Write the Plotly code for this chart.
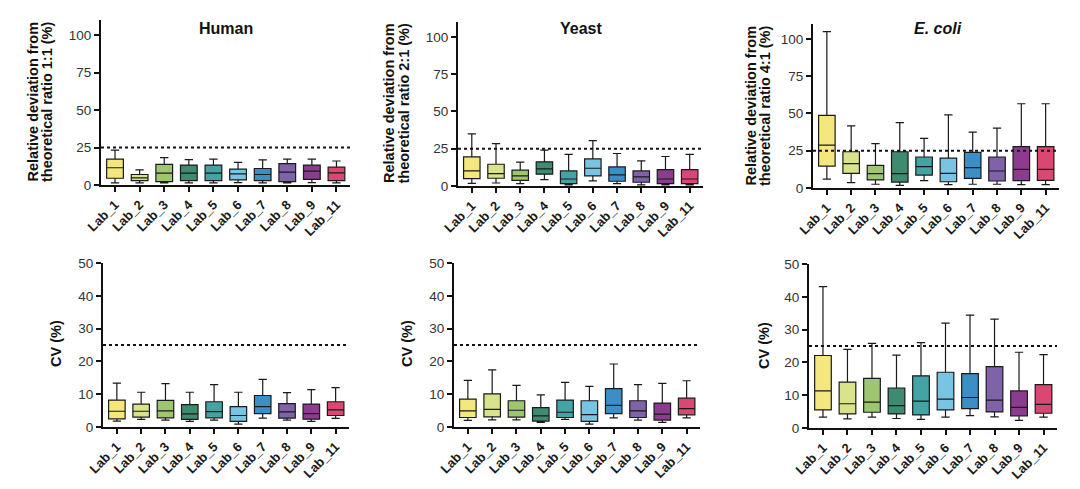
import plotly.graph_objects as go

labs = ["Lab_1", "Lab_2", "Lab_3", "Lab_4", "Lab_5", "Lab_6", "Lab_7", "Lab_8", "Lab_9", "Lab_11"]
colors = ["#F3E77E", "#D9E28C", "#9EC56F", "#3E8B6F", "#43A3A5", "#79C3E3", "#3B8FC6", "#8062A8", "#8C3C8F", "#DA4773"]

# Human - relative deviation from 1:1
hum_dev_low = [1.4, 1.4, 1.4, 1.4, 1.4, 1.6, 1.4, 1.4, 1.6, 1.4]
hum_dev_q1 = [4.5, 2.9, 2.3, 2.9, 2.9, 3.4, 2.9, 2.3, 3.8, 2.9]
hum_dev_med = [11.5, 4.7, 7.9, 7.9, 7.9, 7.4, 7.0, 8.6, 9.2, 8.1]
hum_dev_q3 = [17.3, 7.0, 13.7, 13.3, 13.3, 10.6, 11.0, 14.2, 13.3, 11.9]
hum_dev_high = [23.2, 10.1, 18.2, 16.9, 17.3, 15.1, 16.7, 17.3, 17.3, 16.0]

# Yeast - relative deviation from 2:1
yea_dev_low = [1.8, 2.0, 1.6, 4.3, 0.7, 3.4, 1.6, 0.7, 0.7, 0.7]
yea_dev_q1 = [5.0, 5.2, 3.8, 7.9, 1.6, 6.8, 3.2, 2.5, 1.6, 1.6]
yea_dev_med = [10.1, 8.3, 6.8, 11.5, 4.7, 11.9, 7.4, 6.1, 4.7, 4.7]
yea_dev_q3 = [19.6, 14.6, 10.6, 16.2, 10.1, 18.2, 12.8, 10.1, 11.0, 11.0]
yea_dev_high = [34.9, 28.4, 16.0, 24.1, 21.2, 30.4, 21.8, 16.9, 19.8, 21.2]

# E. coli - relative deviation from 4:1
eco_dev_low = [6.0, 3.6, 2.5, 1.8, 4.9, 2.2, 2.5, 2.5, 2.2, 2.2]
eco_dev_q1 = [14.7, 9.8, 5.4, 4.0, 8.7, 4.2, 6.5, 4.7, 4.9, 5.1]
eco_dev_med = [28.8, 16.3, 9.6, 9.6, 14.3, 9.8, 13.6, 11.4, 12.5, 12.5]
eco_dev_q3 = [48.7, 24.3, 15.2, 24.3, 20.8, 20.1, 23.9, 20.8, 27.7, 27.7]
eco_dev_high = [104.9, 41.7, 29.7, 43.8, 33.3, 49.1, 37.5, 40.2, 56.5, 56.5]

# Human - CV
hum_cv_low = [1.8, 2.3, 2.1, 1.7, 2.1, 0.9, 2.7, 2.1, 1.7, 2.6]
hum_cv_q1 = [2.5, 3.0, 2.8, 2.3, 2.8, 1.7, 4.1, 2.7, 2.4, 3.5]
hum_cv_med = [4.8, 4.8, 4.9, 4.0, 4.7, 3.5, 6.2, 4.6, 4.1, 5.2]
hum_cv_q3 = [8.2, 7.0, 8.1, 6.8, 7.7, 6.2, 9.6, 7.1, 7.0, 7.7]
hum_cv_high = [13.4, 10.6, 13.2, 10.6, 12.9, 10.6, 14.5, 10.5, 11.4, 12.0]

# Yeast - CV
yea_cv_low = [2.0, 2.2, 2.2, 1.4, 2.3, 0.9, 2.8, 2.1, 1.4, 2.8]
yea_cv_q1 = [2.9, 3.1, 3.0, 1.8, 2.9, 1.7, 4.1, 2.9, 2.1, 3.7]
yea_cv_med = [4.9, 5.4, 5.1, 3.4, 4.5, 3.8, 6.6, 4.9, 3.9, 5.6]
yea_cv_q3 = [8.5, 10.1, 8.0, 5.9, 8.2, 8.0, 11.7, 8.0, 7.3, 8.8]
yea_cv_high = [14.2, 17.4, 12.7, 9.8, 13.6, 12.4, 19.2, 12.9, 13.3, 14.1]

# E. coli - CV
eco_cv_low = [3.3, 2.8, 3.3, 2.9, 2.6, 3.3, 3.8, 3.4, 2.3, 3.3]
eco_cv_q1 = [5.5, 4.3, 4.8, 4.3, 4.0, 5.5, 5.9, 4.9, 3.7, 4.5]
eco_cv_med = [11.3, 7.4, 7.9, 6.8, 8.2, 8.8, 9.3, 8.5, 6.3, 7.2]
eco_cv_q3 = [22.1, 14.0, 15.1, 12.2, 15.9, 17.0, 16.6, 18.7, 11.3, 13.2]
eco_cv_high = [43.1, 24.0, 25.8, 22.2, 26.0, 32.0, 34.4, 33.2, 23.1, 22.4]

threshold = 25

OFF = 8  # page body margin offset
W, H = 1080 - OFF, 489 - OFF
FONT = "Liberation Sans, Arial, Helvetica, sans-serif"


def px(x):
    return (x - OFF) / W


def py(y):
    return 1 - (y - OFF) / H


panels = [
    ((hum_dev_low, hum_dev_q1, hum_dev_med, hum_dev_q3, hum_dev_high), (101, 350), (185, 20), [0, 110], [0, 25, 50, 75, 100]),
    ((yea_dev_low, yea_dev_q1, yea_dev_med, yea_dev_q3, yea_dev_high), (458, 703), (186, 22), [0, 110], [0, 25, 50, 75, 100]),
    ((eco_dev_low, eco_dev_q1, eco_dev_med, eco_dev_q3, eco_dev_high), (813, 1059), (188, 24), [0, 110], [0, 25, 50, 75, 100]),
    ((hum_cv_low, hum_cv_q1, hum_cv_med, hum_cv_q3, hum_cv_high), (103, 349), (427, 263), [0, 50], [0, 10, 20, 30, 40, 50]),
    ((yea_cv_low, yea_cv_q1, yea_cv_med, yea_cv_q3, yea_cv_high), (454, 700), (427, 263), [0, 50], [0, 10, 20, 30, 40, 50]),
    ((eco_cv_low, eco_cv_q1, eco_cv_med, eco_cv_q3, eco_cv_high), (809, 1057), (428, 264), [0, 50], [0, 10, 20, 30, 40, 50]),
]

fig = go.Figure()
layout = dict(
    width=W, height=H, margin=dict(l=0, r=0, t=0, b=0, pad=0, autoexpand=False),
    paper_bgcolor="white", plot_bgcolor="white",
    boxmode="overlay", showlegend=False,
    font=dict(family=FONT, color="#222"),
)
shapes = []
for i, (data, xpx, ypx, yr, yt) in enumerate(panels):
    n = "" if i == 0 else str(i + 1)
    xa, ya = "x" + n, "y" + n
    low, q1, med, q3, high = data
    for j, lab in enumerate(labs):
        fig.add_trace(go.Box(
            x=[lab], q1=[q1[j]], median=[med[j]], q3=[q3[j]],
            lowerfence=[low[j]], upperfence=[high[j]],
            fillcolor=colors[j], line=dict(color="#1a1a1a", width=1.2),
            width=0.68, whiskerwidth=0.5, boxpoints=False,
            xaxis=xa, yaxis=ya, showlegend=False, hoverinfo="skip",
        ))
    layout["xaxis" + n] = dict(
        domain=[px(xpx[0]), px(xpx[1])], anchor=ya, type="category",
        categoryorder="array", categoryarray=labs, range=[-0.57, 9.55],
        showline=True, linecolor="#111", linewidth=2, ticks="outside",
        ticklen=5, tickwidth=1.5, tickcolor="#111", tickangle=-45,
        tickfont=dict(size=13, color="#1a1a1a", weight="bold"), showgrid=False, zeroline=False,
        automargin=False,
    )
    layout["yaxis" + n] = dict(
        domain=[py(ypx[0]), py(ypx[1])], anchor=xa, range=yr,
        tickvals=yt, showline=True, linecolor="#111", linewidth=2,
        ticks="outside", ticklen=5, tickwidth=1.5, tickcolor="#111",
        tickfont=dict(size=13.5, color="#333"), showgrid=False, zeroline=False,
        automargin=False,
    )
    shapes.append(dict(type="line", xref=xa + " domain", yref=ya, x0=0, x1=1,
                       y0=threshold, y1=threshold,
                       line=dict(color="#111", width=1.8, dash="dot")))

layout["shapes"] = shapes

annotations = []
titles = [("<b>Human</b>", 226, 28), ("<b>Yeast</b>", 581, 28), ("<b><i>E. coli</i></b>", 938, 29)]
for t, xp, yp in titles:
    annotations.append(dict(text=t, x=px(xp), y=py(yp), xref="paper", yref="paper",
                            showarrow=False, font=dict(size=16, color="#111"),
                            xanchor="center", yanchor="middle"))
ytitles = [
    ("<b>Relative deviation from</b>", 32, 101.5),
    ("<b>theoretical ratio 1:1 (%)</b>", 46.5, 101.5),
    ("<b>Relative deviation from</b>", 389, 103),
    ("<b>theoretical ratio 2:1 (%)</b>", 403.5, 103),
    ("<b>Relative deviation from</b>", 750, 105.5),
    ("<b>theoretical ratio 4:1 (%)</b>", 764.5, 105.5),
    ("<b>CV (%)</b>", 56, 344),
    ("<b>CV (%)</b>", 407, 344),
    ("<b>CV (%)</b>", 764, 346),
]
for t, xp, yp in ytitles:
    annotations.append(dict(text=t, x=px(xp), y=py(yp), xref="paper", yref="paper",
                            showarrow=False, textangle=-90, font=dict(size=14.5, color="#111"),
                            xanchor="center", yanchor="middle"))
layout["annotations"] = annotations

fig.update_layout(**layout)
fig.write_html("out.html")
